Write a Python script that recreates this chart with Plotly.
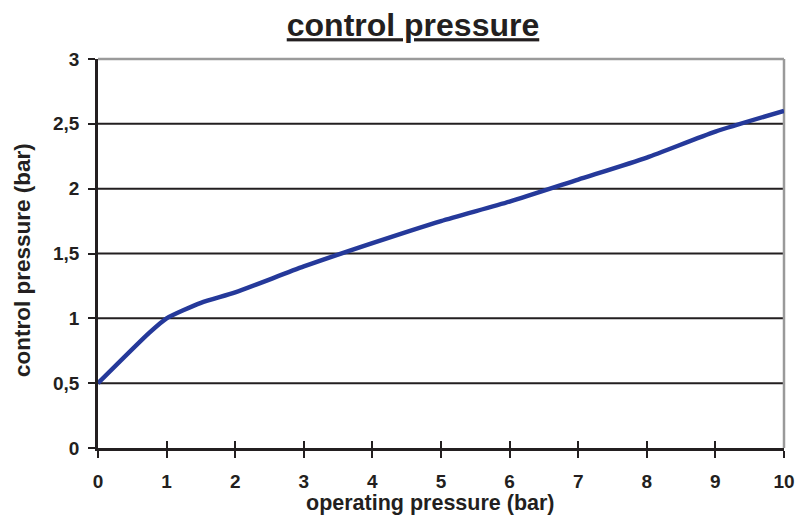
import plotly.graph_objects as go

# Data
operating_pressure = [0, 0.75, 1, 1.5, 2, 3, 4, 5, 6, 7, 8, 9, 10]
control_pressure = [0.5, 0.89, 1.0, 1.12, 1.2, 1.4, 1.58, 1.75, 1.9, 2.07, 2.24, 2.44, 2.6]

x_ticks = [0, 1, 2, 3, 4, 5, 6, 7, 8, 9, 10]
y_ticks = [0, 0.5, 1, 1.5, 2, 2.5, 3]
grid_vals = [0.5, 1, 1.5, 2, 2.5]

INK = "#231f20"
FONT = "Liberation Sans, Arial, sans-serif"

fig = go.Figure()
fig.add_trace(go.Scatter(
    x=operating_pressure, y=control_pressure, mode="lines",
    line=dict(color="#25399a", width=4.5, shape="spline", smoothing=0.6),
    showlegend=False, hoverinfo="x+y",
))
# invisible helper trace so the inner-tick x axis is drawn
fig.add_trace(go.Scatter(
    x=operating_pressure, y=control_pressure, xaxis="x2", mode="markers",
    marker=dict(opacity=0), showlegend=False, hoverinfo="skip",
))

fig.update_layout(
    width=798, height=517,
    margin=dict(l=98, r=14, t=59, b=69),
    paper_bgcolor="white", plot_bgcolor="white",
    separators=",.",
    font=dict(family=FONT, color=INK),
    title=dict(
        text="<b><u>control pressure</u></b>",
        font=dict(size=32, color=INK, family=FONT),
        x=(413 - 98) / (784 - 98), xref="paper", xanchor="center",
        y=1 - 25 / 517, yref="container", yanchor="middle",
    ),
    xaxis=dict(
        range=[0, 10], tickvals=x_ticks, ticks="outside", ticklen=7, tickwidth=2,
        tickcolor=INK, showline=True, linecolor=INK, linewidth=2.5,
        showgrid=False, zeroline=False, ticklabelstandoff=7, automargin=False,
        tickfont=dict(size=19, family=FONT, color=INK, weight="bold"),
    ),
    xaxis2=dict(
        range=[0, 10], tickvals=x_ticks, ticks="inside", ticklen=7, tickwidth=2,
        tickcolor=INK, overlaying="x", anchor="y", side="bottom", automargin=False,
        showticklabels=False, showgrid=False, zeroline=False, showline=False,
    ),
    yaxis=dict(
        range=[0, 3], tickvals=y_ticks, ticks="outside", ticklen=7, tickwidth=2,
        tickcolor=INK, showline=True, linecolor=INK, linewidth=2.5,
        showgrid=False, zeroline=False, ticklabelstandoff=5, automargin=False,
        tickfont=dict(size=19, family=FONT, color=INK, weight="bold"),
    ),
    annotations=[
        dict(text="<b>operating pressure (bar)</b>", xref="paper", yref="paper",
             x=(430 - 98) / 686, y=(448 - 503) / 389, xanchor="center", yanchor="middle",
             showarrow=False, font=dict(size=21.5, family=FONT, color=INK)),
        dict(text="<b>control pressure (bar)</b>", xref="paper", yref="paper",
             x=(22 - 98) / 686, y=(448 - 260) / 389, xanchor="center", yanchor="middle",
             textangle=-90, showarrow=False, font=dict(size=22.5, family=FONT, color=INK)),
    ],
)

# horizontal grid lines (black) and grey top/right frame
for v in grid_vals:
    fig.add_shape(type="line", xref="paper", yref="y", x0=0, x1=1, y0=v, y1=v,
                  line=dict(color=INK, width=2), layer="below")
fig.add_shape(type="line", xref="paper", yref="paper", x0=0, x1=1, y0=1, y1=1,
              line=dict(color="#9a9a9a", width=2.5), layer="below")
fig.add_shape(type="line", xref="paper", yref="paper", x0=1, x1=1, y0=0, y1=1,
              line=dict(color="#9a9a9a", width=2.5), layer="below")

fig.write_html(
    "out.html",
    config={"displayModeBar": False},
    post_script="document.body.style.margin='0';document.body.style.overflow='hidden';",
)
